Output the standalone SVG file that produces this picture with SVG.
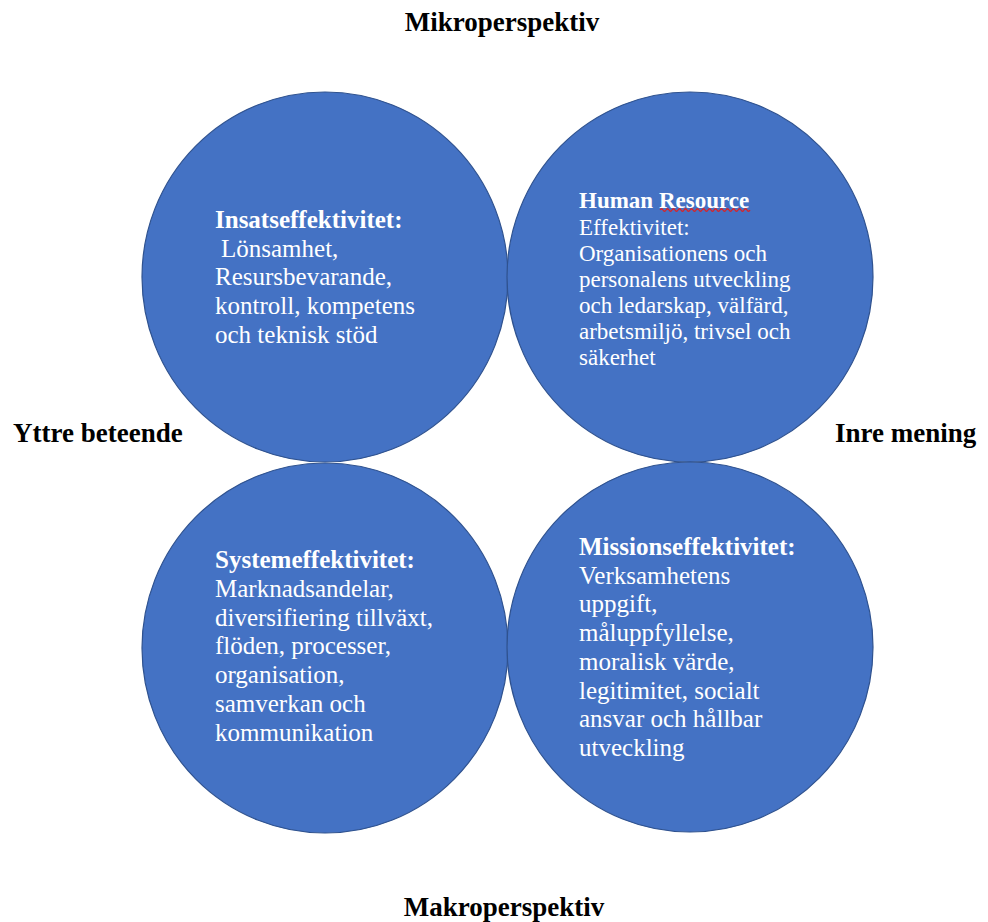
<svg xmlns="http://www.w3.org/2000/svg" width="988" height="922" viewBox="0 0 988 922">
<style>
.c{fill:#4472C4;stroke:#2F528F;stroke-width:1.2}
.t{font-family:"Liberation Serif","Times New Roman",serif;fill:#FFFFFF;font-size:25px}
.t2{font-family:"Liberation Serif","Times New Roman",serif;fill:#FFFFFF;font-size:23px}
.b{font-weight:bold}
.lab{font-family:"Liberation Serif","Times New Roman",serif;fill:#000000;font-size:27px;font-weight:bold}
</style>
<rect width="988" height="922" fill="#FFFFFF"/>
<g id="connectors"></g>
<g id="label-top"><text class="lab" x="502" y="31" text-anchor="middle">Mikroperspektiv</text></g>
<g id="label-bottom"><text class="lab" x="504" y="916" text-anchor="middle">Makroperspektiv</text></g>
<g id="label-left"><text class="lab" x="13" y="442">Yttre beteende</text></g>
<g id="label-right"><text class="lab" x="835" y="442">Inre mening</text></g>
<g id="node-insats">
<ellipse class="c" cx="325" cy="277" rx="183" ry="185"/>
<text class="t"><tspan class="b" x="215" y="228">Insatseffektivitet:</tspan><tspan x="221" y="256.7">Lönsamhet,</tspan><tspan x="215" y="285.4">Resursbevarande,</tspan><tspan x="215" y="314.1">kontroll, kompetens</tspan><tspan x="215" y="342.8">och teknisk stöd</tspan></text>
</g>
<g id="node-hr">
<ellipse class="c" cx="690" cy="277" rx="183" ry="185"/>
<text class="t2"><tspan class="b" x="579" y="208">Human Resource</tspan><tspan x="579" y="234.5">Effektivitet:</tspan><tspan x="579" y="260.5">Organisationens och</tspan><tspan x="579" y="286.5">personalens utveckling</tspan><tspan x="579" y="312.5">och ledarskap, välfärd,</tspan><tspan x="579" y="338.5">arbetsmiljö, trivsel och</tspan><tspan x="579" y="364.5">säkerhet</tspan></text>
<path d="M660,210 q1.5,-2.5 3,0 t3,0 t3,0 t3,0 t3,0 t3,0 t3,0 t3,0 t3,0 t3,0 t3,0 t3,0 t3,0 t3,0 t3,0 t3,0 t3,0 t3,0 t3,0 t3,0 t3,0 t3,0 t3,0 t3,0 t3,0 t3,0 t3,0 t3,0 t3,0 t3,0" fill="none" stroke="#E02020" stroke-width="1.3"/>
</g>
<g id="node-system">
<ellipse class="c" cx="325" cy="648" rx="183" ry="185"/>
<text class="t"><tspan class="b" x="215" y="568">Systemeffektivitet:</tspan><tspan x="215" y="596.8">Marknadsandelar,</tspan><tspan x="215" y="625.6">diversifiering tillväxt,</tspan><tspan x="215" y="654.4">flöden, processer,</tspan><tspan x="215" y="683.2">organisation,</tspan><tspan x="215" y="712">samverkan och</tspan><tspan x="215" y="740.8">kommunikation</tspan></text>
</g>
<g id="node-mission">
<ellipse class="c" cx="690" cy="647" rx="183" ry="185"/>
<text class="t"><tspan class="b" x="579" y="555">Missionseffektivitet:</tspan><tspan x="579" y="583.7">Verksamhetens</tspan><tspan x="579" y="612.4">uppgift,</tspan><tspan x="579" y="641.1">måluppfyllelse,</tspan><tspan x="579" y="669.8">moralisk värde,</tspan><tspan x="579" y="698.5">legitimitet, socialt</tspan><tspan x="579" y="727.2">ansvar och hållbar</tspan><tspan x="579" y="755.9">utveckling</tspan></text>
</g>
</svg>
